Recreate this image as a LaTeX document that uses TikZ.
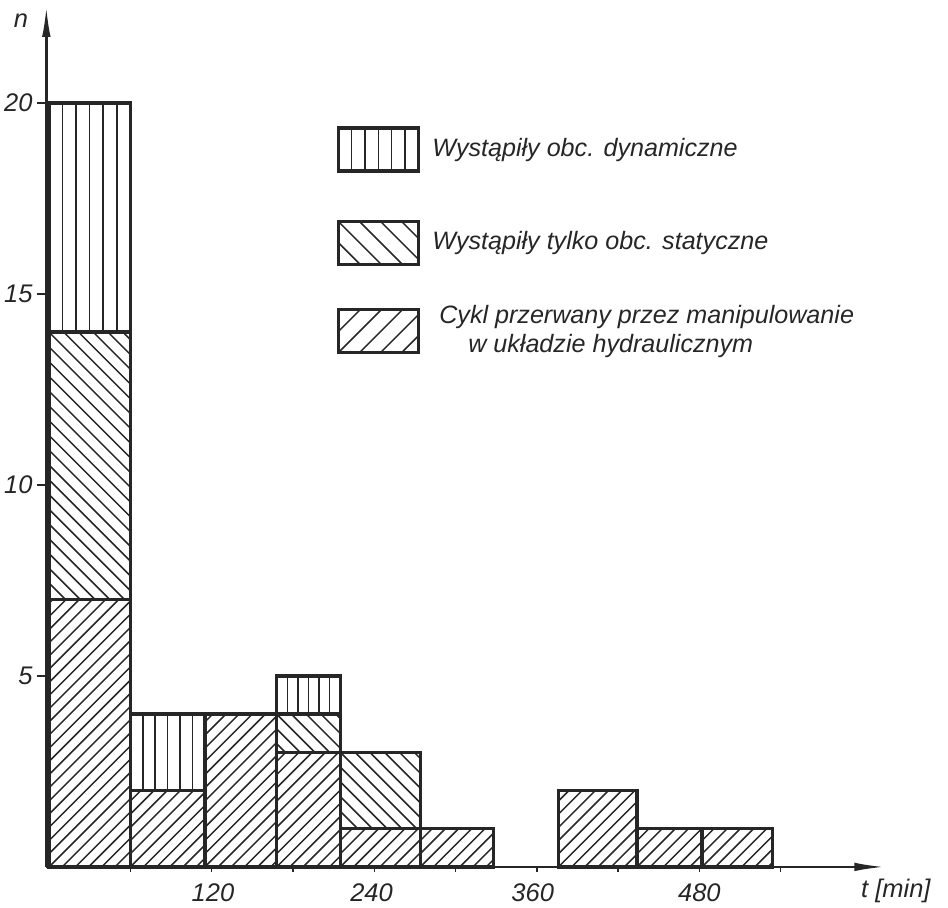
\documentclass[tikz,border=0pt]{standalone}
\usepackage{fontspec}
\setmainfont{Liberation Sans}
\usepackage{tikz}
\usetikzlibrary{positioning,calc,arrows.meta}
\definecolor{ink}{HTML}{262626}
\tikzset{
  bar/.style={draw=ink, line width=1.9pt},
  hatch/.style={draw=ink, line width=0.85pt},
  dynbar/.style={bar, path picture={
      \foreach \i in {1,...,5}
        \draw[hatch]
          ($(path picture bounding box.south west)!\i/6!(path picture bounding box.south east)$) --
          ($(path picture bounding box.north west)!\i/6!(path picture bounding box.north east)$);}},
  statbar/.style={bar, path picture={
      \foreach \k in {-22,...,7}
        \draw[hatch] ([xshift=\k*#1]path picture bounding box.north west) -- ++(6cm,-6cm);}},
  statbar/.default=8.4pt,
  hydrbar/.style={bar, path picture={
      \foreach \k in {-24,...,7}
        \draw[hatch] ([xshift=\k*#1]path picture bounding box.south west) -- ++(6cm,6cm);}},
  hydrbar/.default=7.5pt,
  keybox/.style={minimum width=1.6cm, minimum height=0.86cm, inner sep=0pt},
  keytext/.style={inner sep=0pt, font=\fontsize{14.3}{16.5}\selectfont\itshape, text=ink, align=left},
  ticklab/.style={inner sep=0pt, font=\fontsize{14.5}{17}\selectfont\itshape, text=ink},
  axis/.style={draw=ink, line width=1.6pt, -{Latex[length=6.4mm,width=1.7mm]}},
  tickmark/.style={draw=ink, line width=0.8pt}
}

\begin{document}
\begin{tikzpicture}[x=0.0271cm, y=0.764cm]
  \useasboundingbox (-36.2,-1.073) rectangle (663.5,22.696);

  \draw[hydrbar] (0,0) rectangle (60,7);
  \draw[statbar] (0,7) rectangle (60,14);
  \draw[dynbar]  (0,14) rectangle (60,20);
  \draw[hydrbar] (60,0) rectangle (115,2);
  \draw[dynbar]  (60,2) rectangle (115,4);
  \draw[hydrbar] (115,0) rectangle (168,4);
  \draw[hydrbar] (168,0) rectangle (215,3);
  \draw[statbar] (168,3) rectangle (215,4);
  \draw[dynbar]  (168,4) rectangle (215,5);
  \draw[hydrbar] (215,0) rectangle (274,1);
  \draw[statbar] (215,1) rectangle (274,3);
  \draw[hydrbar] (274,0) rectangle (328,1);
  \draw[hydrbar] (376,0) rectangle (434,2);
  \draw[hydrbar] (434,0) rectangle (482,1);
  \draw[hydrbar] (482,0) rectangle (534,1);

  \coordinate (orig) at (-2,0);
  \coordinate (ntip) at (-2,22.57);
  \coordinate (ttip) at (618,0);
  \draw[axis] (orig) -- (ntip);
  \draw[axis] (orig) -- (ttip);

  \foreach \n in {5,10,15,20}
    \draw[tickmark] (-9,\n) -- (-2,\n);
  \foreach \t in {60,120,...,540}
    \draw[tickmark] (\t,0) -- (\t,-0.12);

  \node[ticklab, anchor=east] (n5) at (-12,5) {5};
  \node[ticklab, anchor=east] (n10) at (-12,10) {10};
  \node[ticklab, anchor=east] (n15) at (-12,15) {15};
  \node[ticklab, anchor=east] (n20) at (-12,20) {20};
  \node[ticklab] (t120) at (121,-0.68) {120};
  \node[ticklab] (t240) at (238,-0.68) {240};
  \node[ticklab] (t360) at (357,-0.68) {360};
  \node[ticklab] (t480) at (480,-0.68) {480};
  \node[ticklab] (tname) at (625,-0.62) {t [min]};
  \node[ticklab] (nname) at (-20.7,22.15) {n};

  \node[keybox, dynbar] (keydyn) at (243,18.78) {};
  \node[keybox, statbar=12pt, below=0.94cm of keydyn] (keystat) {};
  \node[keybox, hydrbar=12pt, below=0.84cm of keystat] (keyhydr) {};
  \node[keytext, right=0.24cm of keydyn] (txtdyn) {Wystąpiły obc. dynamiczne};
  \node[keytext, right=0.24cm of keystat] (txtstat) {Wystąpiły tylko obc. statyczne};
  \node[keytext, right=0.38cm of keyhydr] (txthydr) {Cykl przerwany przez manipulowanie\\\hspace*{0.58cm}w układzie hydraulicznym};
\end{tikzpicture}
\end{document}
